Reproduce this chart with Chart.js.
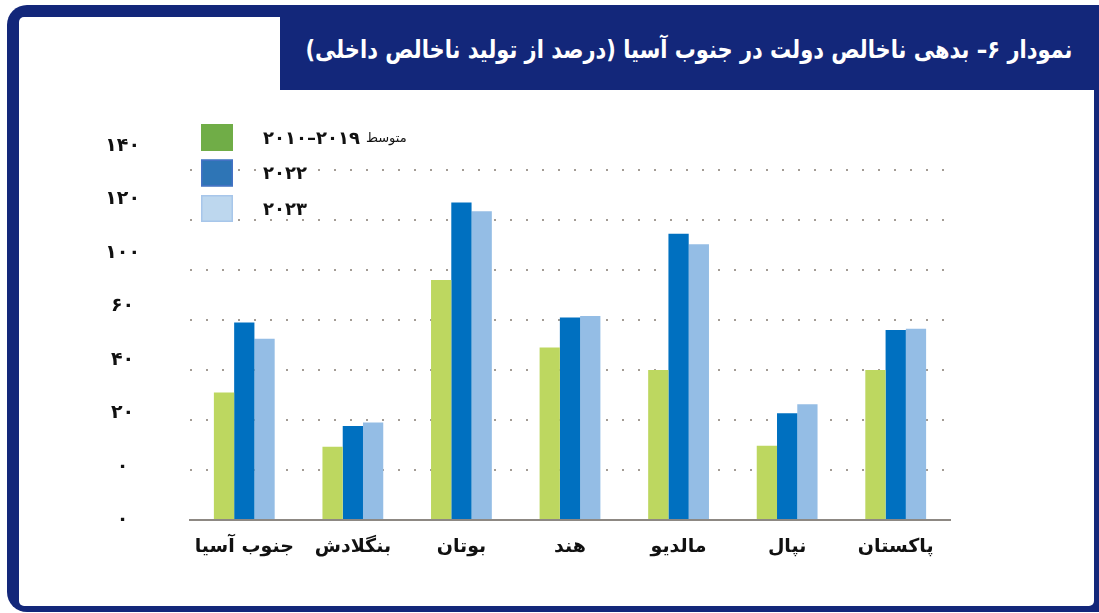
<!DOCTYPE html>
<html>
<head>
<meta charset="utf-8">
<script src="https://cdn.jsdelivr.net/npm/chart.js@4/dist/chart.umd.min.js"></script>
<style>
html,body{margin:0;padding:0;background:#fff;}
#wrap{position:relative;width:1099px;height:613px;overflow:hidden;font-family:"DejaVu Sans",sans-serif;}
.frame{position:absolute;left:7px;top:5px;width:1110px;height:607px;background:#13277a;border-radius:20px;}
.inner{position:absolute;left:19px;top:17px;width:1075px;height:589px;background:#fff;border-radius:5px;}
.titlebar{position:absolute;left:280px;top:5px;width:819px;height:85px;background:#13277a;}
.title{position:absolute;right:27px;top:34px;line-height:32px;height:32px;color:#fff;font-weight:bold;font-size:25px;white-space:nowrap;direction:rtl;font-family:"DejaVu Sans",sans-serif;transform-origin:right center;}
#chart{position:absolute;left:0;top:0;}
</style>
</head>
<body>
<div id="wrap">
  <div class="frame"></div>
  <div class="inner"></div>
  <div class="titlebar"></div>
  <div class="title" id="title">نمودار ۶– بدهی ناخالص دولت در جنوب آسیا (درصد از تولید ناخالص داخلی)</div>
  <canvas id="chart" width="1099" height="613"></canvas>
</div>
<script>
// ---- data ----
const categories = ['جنوب آسیا', 'بنگلادش', 'بوتان', 'هند', 'مالدیو', 'نپال', 'پاکستان'];
const avg2010_2019 = [51, 29.3, 96, 69, 60, 29.7, 60];
const values2022 = [79, 37.6, 127, 81, 114.5, 42.7, 76];
const values2023 = [72.5, 39, 123.5, 81.6, 110.3, 46.3, 76.5];
const seriesLabels = ['متوسط ۲۰۱۰–۲۰۱۹', '۲۰۲۲', '۲۰۲۳'];
const yTickValues = [0, 20, 40, 60, 80, 100, 120, 140];
const yTickLabels = ['۰', '۰', '۲۰', '۴۰', '۶۰', '۱۰۰', '۱۲۰', '۱۴۰'];

// ---- styles ----
const barColors = ['#bdd760', '#0070c0', '#94bde5'];
const legendFill = ['#70ad47', '#2e75b6', '#bdd7ee'];
const legendBorder = ['#70ad47', '#4472c4', '#a7c6ea'];
const FONT = '"DejaVu Sans", sans-serif';

// condense the title horizontally so it spans the same width as in the reference
(function fitTitle() {
  const t = document.getElementById('title');
  const target = 767;
  const w = t.getBoundingClientRect().width;
  if (w > 0) t.style.transform = 'scaleX(' + (target / w).toFixed(4) + ')';
})();

const legendPlugin = {
  id: 'boxLegend',
  afterDraw(chart) {
    const ctx = chart.ctx;
    const area = chart.chartArea;
    const x0 = area.left + 11;
    const y0 = area.top - 22;
    const step = 35.5;
    ctx.save();
    chart.data.datasets.forEach((ds, i) => {
      const y = y0 + i * step;
      ctx.fillStyle = legendFill[i];
      ctx.fillRect(x0, y, 32, 27);
      ctx.strokeStyle = legendBorder[i];
      ctx.lineWidth = 1.5;
      ctx.strokeRect(x0 + 0.75, y + 0.75, 30.5, 25.5);
      const label = ds.label;
      const sp = label.indexOf(' ');
      let word = '', num = label;
      if (sp > 0) { word = label.slice(0, sp); num = label.slice(sp + 1); }
      ctx.fillStyle = '#111';
      ctx.textBaseline = 'middle';
      ctx.textAlign = 'left';
      ctx.font = 'bold 18px ' + FONT;
      const tx = x0 + 62;
      const ty = y + 15;
      ctx.fillText(num, tx, ty);
      if (word) {
        const w = ctx.measureText(num).width;
        ctx.font = '13px ' + FONT;
        ctx.fillText(word, tx + w + 6, ty);
      }
    });
    ctx.restore();
  }
};

new Chart(document.getElementById('chart'), {
  type: 'bar',
  data: {
    labels: categories,
    datasets: [
      { label: seriesLabels[0], data: avg2010_2019, backgroundColor: barColors[0], yAxisID: 'y' },
      { label: seriesLabels[1], data: values2022, backgroundColor: barColors[1], yAxisID: 'y' },
      { label: seriesLabels[2], data: values2023, backgroundColor: barColors[2], yAxisID: 'y' }
    ]
  },
  options: {
    responsive: false,
    animation: false,
    layout: { padding: { left: 70, right: 149, top: 146, bottom: 33 } },
    datasets: { bar: { categoryPercentage: 0.56, barPercentage: 1.0, borderWidth: 0 } },
    plugins: { legend: { display: false }, tooltip: { enabled: false }, title: { display: false } },
    scales: {
      x: {
        type: 'category',
        offset: true,
        grid: { display: false, drawTicks: false },
        border: { display: true, color: '#8d8883', width: 2 },
        ticks: { color: '#111', font: { family: FONT, size: 19, weight: 'bold' }, padding: 16, maxRotation: 0, autoSkip: false },
        afterFit(s) { s.height = 60; }
      },
      y: {
        position: 'left',
        min: 0,
        max: 149.6,
        grid: { color: '#a39c95', lineWidth: 2, drawTicks: false },
        border: { display: false, dash: [2, 14] },
        ticks: { display: false, stepSize: 20, includeBounds: false },
        afterFit(s) { s.width = 0; }
      },
      yLabels: {
        position: 'left',
        min: 0,
        max: 140,
        grid: { display: false, drawTicks: false },
        border: { display: false },
        ticks: {
          stepSize: 20,
          color: '#111',
          font: { family: FONT, size: 19, weight: 'bold' },
          crossAlign: 'center',
          padding: 50,
          callback: (v) => { const k = yTickValues.indexOf(v); return k >= 0 ? yTickLabels[k] : ''; }
        },
        afterFit(s) { s.width = 120; }
      }
    }
  },
  plugins: [legendPlugin]
});
</script>
</body>
</html>
